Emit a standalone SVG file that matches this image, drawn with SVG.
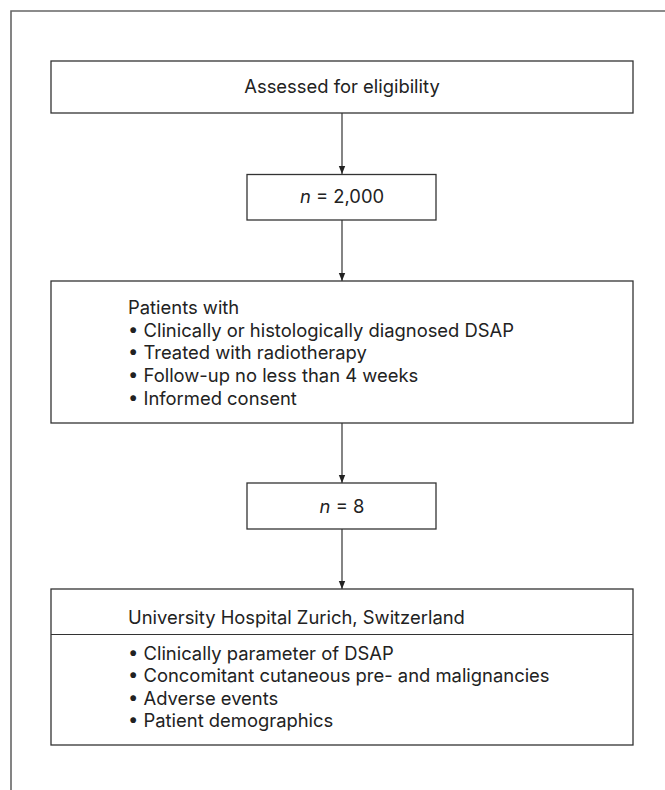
<svg xmlns="http://www.w3.org/2000/svg" width="665" height="790" viewBox="0 0 665 790">
<defs>
<style>
.box{fill:#fff;stroke:#333;stroke-width:1.3}
.frame{fill:none;stroke:#666;stroke-width:1.6}
.conn{stroke:#333;stroke-width:1.2;fill:none}
text{font-family:Inter,"Open Sans","Liberation Sans",sans-serif;font-size:18.4px;fill:#222}
.c{text-anchor:middle}
</style>
<marker id="ah" viewBox="0 0 8 8" refX="8" refY="4" markerWidth="8" markerHeight="8" markerUnits="userSpaceOnUse" orient="auto">
<path d="M0,0.8 L8,4 L0,7.2 Z" fill="#222"/>
</marker>
</defs>
<rect width="665" height="790" fill="#fff"/>
<path class="frame" d="M11,790 V11 H665"/>
<g id="connectors">
<line class="conn" x1="342" y1="113" x2="342" y2="174" marker-end="url(#ah)"/>
<line class="conn" x1="342" y1="220" x2="342" y2="281" marker-end="url(#ah)"/>
<line class="conn" x1="342" y1="423" x2="342" y2="483" marker-end="url(#ah)"/>
<line class="conn" x1="342" y1="529" x2="342" y2="589" marker-end="url(#ah)"/>
</g>
<g id="assessed">
<rect class="box" x="51" y="61" width="582" height="52"/>
<text class="c" x="342" y="93">Assessed for eligibility</text>
</g>
<g id="n2000">
<rect class="box" x="247" y="174.5" width="189" height="45.5"/>
<text class="c" x="342" y="203"><tspan font-style="italic">n</tspan> = 2,000</text>
</g>
<g id="criteria">
<rect class="box" x="51" y="281" width="582" height="142"/>
<text x="128" y="314">Patients with</text>
<text x="128" y="336.7">• Clinically or histologically diagnosed DSAP</text>
<text x="128" y="359.3">• Treated with radiotherapy</text>
<text x="128" y="382">• Follow-up no less than 4 weeks</text>
<text x="128" y="404.7">• Informed consent</text>
</g>
<g id="n8">
<rect class="box" x="247" y="483" width="189" height="46"/>
<text class="c" x="342" y="513"><tspan font-style="italic">n</tspan> = 8</text>
</g>
<g id="zurich">
<rect class="box" x="51" y="589" width="582" height="156"/>
<line class="conn" x1="51" y1="634.5" x2="633" y2="634.5"/>
<text x="128" y="624">University Hospital Zurich, Switzerland</text>
<text x="128" y="659.5">• Clinically parameter of DSAP</text>
<text x="128" y="682">• Concomitant cutaneous pre- and malignancies</text>
<text x="128" y="704.5">• Adverse events</text>
<text x="128" y="727">• Patient demographics</text>
</g>
</svg>
